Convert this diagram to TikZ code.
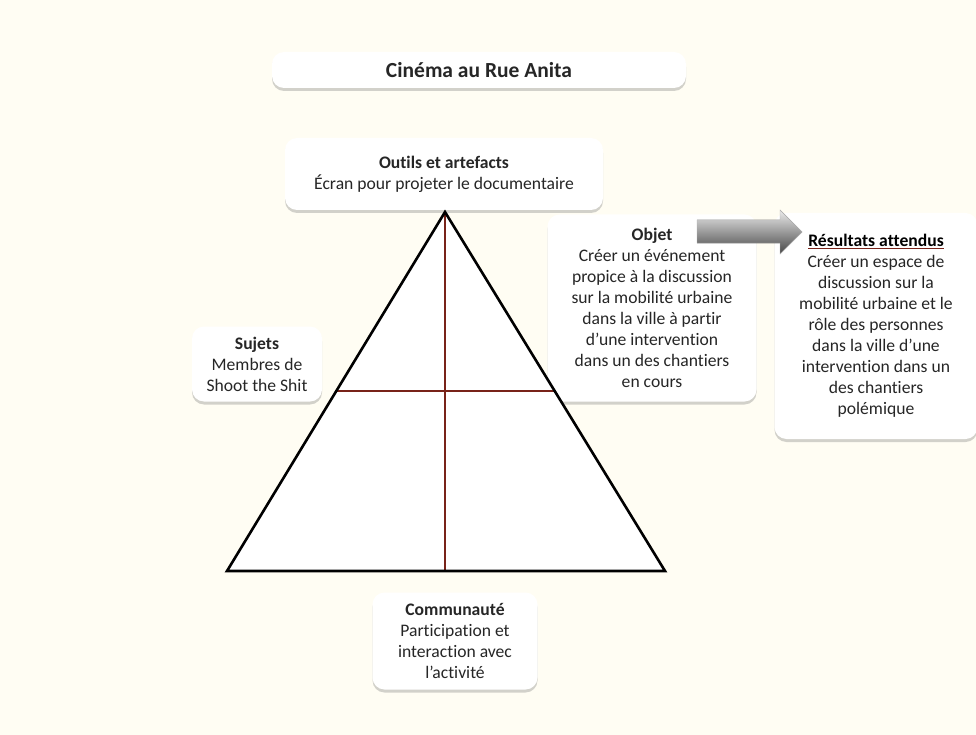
\documentclass[tikz,border=0pt]{standalone}
\usepackage{fontspec}
\setmainfont{Carlito}[Ligatures=NoCommon]
\usetikzlibrary{shapes,shadows}
\definecolor{fond}{RGB}{255,253,243}
\definecolor{trait}{RGB}{120,35,25}

\begin{document}
\begin{tikzpicture}[x=1pt, y=-1pt,
        every node/.append style={font=\fontsize{17.6}{21}\selectfont, text=black!85},
        boite/.style={fill=white, rounded corners=12pt, align=center, inner sep=2pt,
          drop shadow={shadow xshift=0pt, shadow yshift=-3pt, opacity=.35}}]
      \useasboundingbox[fill=fond] (0,0) rectangle (976,735);
      \node (Titre) [boite, minimum width=414pt, minimum height=36pt] at (479,70)
        {\fontsize{21.5}{24}\selectfont\bfseries Cinéma au Rue Anita};
      \node (Outils) [boite, minimum width=318pt, minimum height=72pt] at (444,174)
        {\textbf{Outils et artefacts}\\ Écran pour projeter le documentaire};
      \node (Objet) [boite, minimum width=209pt, minimum height=187pt] at (652,308)
        {\textbf{Objet}\\ Créer un événement\\ propice à la discussion\\ sur la mobilité urbaine\\
         dans la ville à partir\\ d’une intervention\\ dans un des chantiers\\ en cours};
      \node (Resultats) [boite, minimum width=203pt, minimum height=226pt] at (876,326)
        {{\color{trait}\underline{\color{black}\textbf{Résultats attendus}}}\\ Créer un espace de\\
         discussion sur la\\ mobilité urbaine et le\\ rôle des personnes\\ dans la ville d'une\\
         intervention dans un\\ des chantiers\\ polémique};
      \node (Sujets) [boite, minimum width=130pt, minimum height=75pt] at (257,364)
        {\textbf{Sujets}\\ Membres de\\ Shoot the Shit};
      \node (Communaute) [boite, minimum width=165pt, minimum height=97pt] at (455,641)
        {\textbf{Communauté}\\ Participation et\\ interaction avec\\ l’activité};
      % triangle
      \coordinate (sommet) at (445,212);
      \coordinate (gauche) at (227,571);
      \coordinate (droite) at (665,571);
      \coordinate (milg) at (336,391);
      \coordinate (mild) at (554,391);
      \coordinate (milb) at (445,571);
      \fill[white] (sommet) -- (gauche) -- (droite) -- cycle;
      \draw[trait, line width=1.1pt] (sommet) -- (milb);
      \draw[trait, line width=1.1pt] (milg) -- (mild);
      \draw[line width=2.6pt, line join=miter] (sommet) -- (gauche) -- (droite) -- cycle;
      % fleche
      \coordinate (fleche) at (802,232);
      \fill[top color=gray!15, bottom color=gray!55!black, draw=gray!60, line width=.4pt]
        (697,220) -- (780,220) -- (780,210) -- (fleche) -- (780,254) -- (780,243) -- (697,243) -- cycle;
    \end{tikzpicture}
\end{document}
